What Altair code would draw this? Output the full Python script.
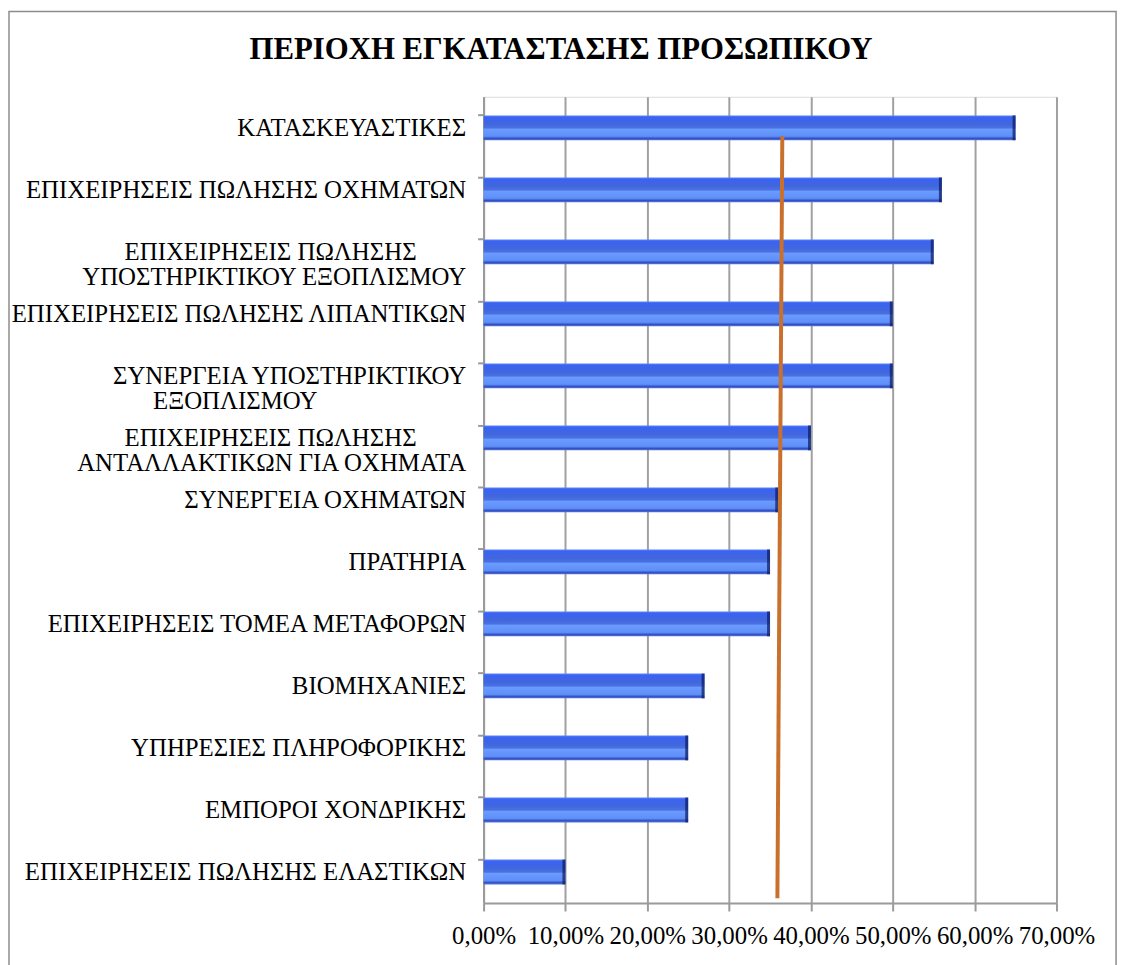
import altair as alt
import pandas as pd

# ---- data (top to bottom) ----
categories = [
    "ΚΑΤΑΣΚΕΥΑΣΤΙΚΕΣ",
    "ΕΠΙΧΕΙΡΗΣΕΙΣ ΠΩΛΗΣΗΣ ΟΧΗΜΑΤΩΝ",
    "ΕΠΙΧΕΙΡΗΣΕΙΣ ΠΩΛΗΣΗΣ ΥΠΟΣΤΗΡΙΚΤΙΚΟΥ ΕΞΟΠΛΙΣΜΟΥ",
    "ΕΠΙΧΕΙΡΗΣΕΙΣ ΠΩΛΗΣΗΣ ΛΙΠΑΝΤΙΚΩΝ",
    "ΣΥΝΕΡΓΕΙΑ ΥΠΟΣΤΗΡΙΚΤΙΚΟΥ ΕΞΟΠΛΙΣΜΟΥ",
    "ΕΠΙΧΕΙΡΗΣΕΙΣ ΠΩΛΗΣΗΣ ΑΝΤΑΛΛΑΚΤΙΚΩΝ ΓΙΑ ΟΧΗΜΑΤΑ",
    "ΣΥΝΕΡΓΕΙΑ ΟΧΗΜΑΤΩΝ",
    "ΠΡΑΤΗΡΙΑ",
    "ΕΠΙΧΕΙΡΗΣΕΙΣ ΤΟΜΕΑ ΜΕΤΑΦΟΡΩΝ",
    "ΒΙΟΜΗΧΑΝΙΕΣ",
    "ΥΠΗΡΕΣΙΕΣ ΠΛΗΡΟΦΟΡΙΚΗΣ",
    "ΕΜΠΟΡΟΙ ΧΟΝΔΡΙΚΗΣ",
    "ΕΠΙΧΕΙΡΗΣΕΙΣ ΠΩΛΗΣΗΣ ΕΛΑΣΤΙΚΩΝ",
]
values = [65, 56, 55, 50, 50, 40, 36, 35, 35, 27, 25, 25, 10]

# orange reference line: x (%) and vertical position (0 = bottom, 100 = top of plot)
line_x = [35.9, 36.5]
line_y = [0.6, 95.1]

x_ticks = [0, 10, 20, 30, 40, 50, 60, 70]

title = "ΠΕΡΙΟΧΗ ΕΓΚΑΤΑΣΤΑΣΗΣ ΠΡΟΣΩΠΙΚΟΥ"

# how the long category names wrap on the axis (Excel-style centred lines)
ESP = "\u2002"   # en space
WJ = "\u2060"    # word joiner keeps the trailing spaces from hanging
wrapped = {
    "ΕΠΙΧΕΙΡΗΣΕΙΣ ΠΩΛΗΣΗΣ ΥΠΟΣΤΗΡΙΚΤΙΚΟΥ ΕΞΟΠΛΙΣΜΟΥ":
        "ΕΠΙΧΕΙΡΗΣΕΙΣ ΠΩΛΗΣΗΣ" + ESP * 4 + WJ + "|ΥΠΟΣΤΗΡΙΚΤΙΚΟΥ ΕΞΟΠΛΙΣΜΟΥ",
    "ΣΥΝΕΡΓΕΙΑ ΥΠΟΣΤΗΡΙΚΤΙΚΟΥ ΕΞΟΠΛΙΣΜΟΥ":
        "ΣΥΝΕΡΓΕΙΑ ΥΠΟΣΤΗΡΙΚΤΙΚΟΥ|ΕΞΟΠΛΙΣΜΟΥ" + ESP * 12 + WJ,
    "ΕΠΙΧΕΙΡΗΣΕΙΣ ΠΩΛΗΣΗΣ ΑΝΤΑΛΛΑΚΤΙΚΩΝ ΓΙΑ ΟΧΗΜΑΤΑ":
        "ΕΠΙΧΕΙΡΗΣΕΙΣ ΠΩΛΗΣΗΣ" + ESP * 4 + WJ + "|ΑΝΤΑΛΛΑΚΤΙΚΩΝ ΓΙΑ ΟΧΗΜΑΤΑ",
}
labels = [wrapped.get(c, c) for c in categories]

# ---- tables ----
df = pd.DataFrame({"cat": labels, "val": values})
df_line = pd.DataFrame({"val": line_x, "y": line_y})
df_title = pd.DataFrame({"t": [title]})

SERIF = "Liberation Serif"
W, H = 577, 812

grad = alt.Gradient(
    gradient="linear",
    x1=0, x2=0, y1=0, y2=1,
    stops=[
        alt.GradientStop(color="#5A82F5", offset=0.0),
        alt.GradientStop(color="#3A63F2", offset=0.08),
        alt.GradientStop(color="#4167DC", offset=0.35),
        alt.GradientStop(color="#4A70E2", offset=0.5),
        alt.GradientStop(color="#6A9BFF", offset=0.56),
        alt.GradientStop(color="#5F8FF8", offset=0.84),
        alt.GradientStop(color="#3350C2", offset=0.93),
        alt.GradientStop(color="#5878DA", offset=1.0),
    ],
)

y_enc = alt.Y(
    "cat:N",
    sort=labels,
    scale=alt.Scale(paddingInner=0.6, paddingOuter=0.3),
    axis=alt.Axis(
        title=None,
        labelExpr="split(datum.label, '|')",
        labelFont=SERIF,
        labelFontSize=25,
        labelColor="#000000",
        labelLineHeight=25,
        labelLimit=700,
        labelPadding=12,
        labelAlign="right",
        bandPosition=0,
        ticks=True,
        tickSize=6,
        tickColor="#9a9a9a",
        tickWidth=2,
        domainColor="#9a9a9a",
        domainWidth=2,
        grid=False,
    ),
)

x_scale = alt.Scale(domain=[0, 70], nice=False)
x_enc = alt.X(
    "val:Q",
    scale=x_scale,
    axis=alt.Axis(
        title=None,
        values=x_ticks,
        labelExpr="replace(format(datum.value, '.2f'), '.', ',') + '%'",
        labelFont=SERIF,
        labelFontSize=25,
        labelColor="#000000",
        labelPadding=13,
        labelFlush=False,
        labelOverlap=False,
        tickSize=8,
        tickColor="#9a9a9a",
        tickWidth=2,
        domainColor="#9a9a9a",
        domainWidth=2,
        grid=True,
        gridColor="#a0a0a0",
        gridWidth=2,
    ),
)

bars = alt.Chart(df).mark_bar(color=grad).encode(x=x_enc, y=y_enc)

edges = alt.Chart(df).mark_tick(
    color="#0B1A5C", thickness=3, size=25, xOffset=-1.5
).encode(x=alt.X("val:Q"), y=alt.Y("cat:N", sort=labels))

line = alt.Chart(df_line).mark_line(color="#C8702C", strokeWidth=4).encode(
    x=alt.X("val:Q"),
    y=alt.Y("y:Q", scale=alt.Scale(domain=[0, 100], nice=False), axis=None),
    order="y:Q",
)

frame = alt.Chart(pd.DataFrame({"k": [0]})).mark_rect(
    fill=None, stroke="#8c8c8c", strokeWidth=1.5
).encode(
    x=alt.value(-478), x2=alt.value(637),
    y=alt.value(-86), y2=alt.value(880),
)

title_mark = alt.Chart(df_title).mark_text(
    font=SERIF, fontSize=31, fontWeight="bold", color="#000000",
    align="center", baseline="middle",
).encode(text="t:N", x=alt.value(78), y=alt.value(-47))

chart = (
    alt.layer(alt.layer(bars, edges), line, frame, title_mark)
    .resolve_scale(y="independent")
    .properties(
        width=W,
        height=H,
        autosize=alt.AutoSizeParams(type="none"),
        padding={"left": 479, "top": 86, "right": 67, "bottom": 59},
    )
    .configure_view(stroke=None)
    .configure(background="white")
)

chart.save("out.html", embed_options={"renderer": "svg", "actions": False})
